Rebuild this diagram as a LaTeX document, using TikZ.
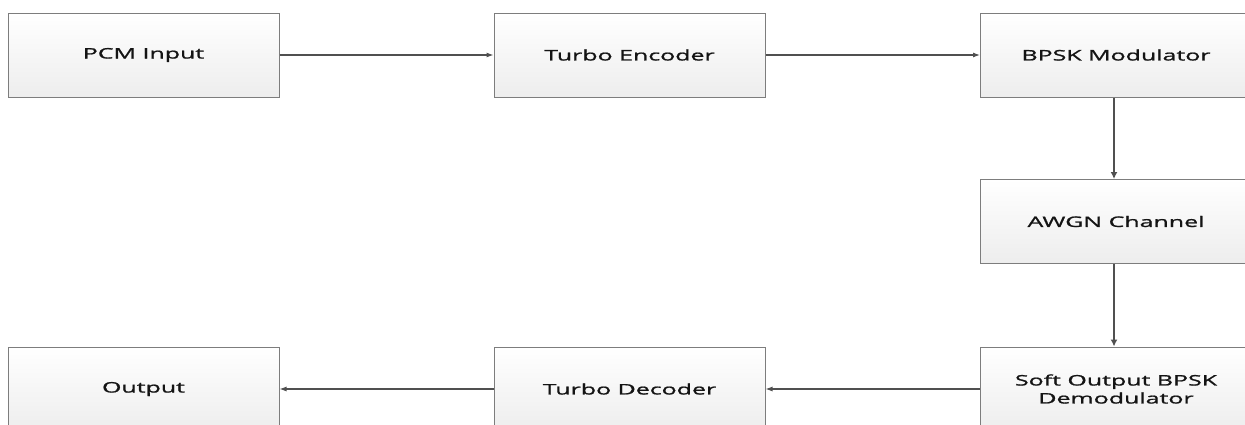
\documentclass[tikz,border=0pt]{standalone}
\usepackage{fontspec}
\setmainfont{Open Sans}[FakeStretch=1.72,FakeBold=1.2]
\usetikzlibrary{arrows.meta}
\definecolor{boxborder}{RGB}{125,125,125}
\definecolor{arrowcol}{RGB}{80,80,80}
\definecolor{txtcol}{RGB}{20,20,20}
\begin{document}
\begin{tikzpicture}[x=1pt,y=-1pt,
  blockbox/.style={draw=boxborder, line width=1pt, top color=white, bottom color=black!7,
    minimum width=271pt, minimum height=84pt, inner sep=0pt, align=center,
    text=txtcol, font=\fontsize{14.5}{18}\selectfont},
  flow/.style={draw=arrowcol, line width=1.1pt, -{Latex[length=7pt,width=5pt]}},
  vflow/.style={draw=arrowcol, line width=1.6pt, -{Latex[length=7pt,width=7pt]}}]
\clip (0,0) rectangle (1245,424);
\node[blockbox] (pcm) at (143.5,55) {PCM Input};
\node[blockbox] (tenc) at (629.5,55) {Turbo Encoder};
\node[blockbox] (bpsk) at (1116,55) {BPSK Modulator};
\node[blockbox] (awgn) at (1116,221.5) {AWGN Channel};
\node[blockbox] (demod) at (1116,389) {Soft Output BPSK\\Demodulator};
\node[blockbox] (tdec) at (629.5,389) {Turbo Decoder};
\node[blockbox] (out) at (143.5,389) {Output};
\draw[flow] (pcm) -- (tenc);
\draw[flow] (tenc) -- (bpsk);
\draw[vflow] ([xshift=-2pt]bpsk.south) -- ([xshift=-2pt]awgn.north);
\draw[vflow] ([xshift=-2pt]awgn.south) -- ([xshift=-2pt]demod.north);
\draw[flow] (demod) -- (tdec);
\draw[flow] (tdec) -- (out);
\end{tikzpicture}
\end{document}
